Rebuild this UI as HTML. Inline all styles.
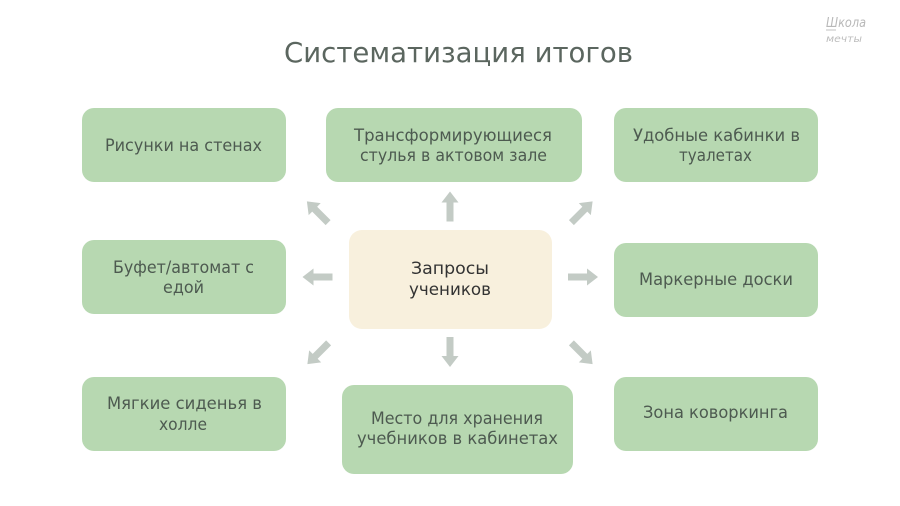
<!DOCTYPE html>
<html>
<head>
<meta charset="utf-8">
<style>
html,body{margin:0;padding:0;background:#fff;}
svg{display:block;}
text{font-family:"DejaVu Sans","Liberation Sans",sans-serif;}
</style>
</head>
<body>
<svg width="900" height="506" viewBox="0 0 900 506" xmlns="http://www.w3.org/2000/svg">
<rect width="900" height="506" fill="#ffffff"/>

<!-- logo -->
<text x="826" y="27" font-size="13" font-style="italic" fill="#b8b8b8" textLength="40" lengthAdjust="spacingAndGlyphs">Школа</text>
<line x1="826" y1="30" x2="836" y2="30" stroke="#c0c0c0" stroke-width="1"/>
<text x="826" y="42" font-size="10" font-style="italic" fill="#bdbdbd" textLength="36" lengthAdjust="spacingAndGlyphs">мечты</text>

<!-- title -->
<text x="284" y="62" font-size="28" fill="#5b665f" textLength="349" lengthAdjust="spacingAndGlyphs">Систематизация итогов</text>

<!-- boxes -->
<g fill="#b7d8b1">
<rect x="82" y="108" width="204" height="74" rx="12"/>
<rect x="326" y="108" width="256" height="74" rx="12"/>
<rect x="614" y="108" width="204" height="74" rx="12"/>
<rect x="82" y="240" width="204" height="74" rx="12"/>
<rect x="614" y="243" width="204" height="74" rx="12"/>
<rect x="82" y="377" width="204" height="74" rx="12"/>
<rect x="342" y="385" width="231" height="89" rx="12"/>
<rect x="614" y="377" width="204" height="74" rx="12"/>
</g>
<rect x="349" y="230" width="203" height="99" rx="13" fill="#f8f0dd"/>

<!-- box text -->
<g font-size="17" fill="#4d5a50">
<text x="105" y="151" textLength="157" lengthAdjust="spacingAndGlyphs">Рисунки на стенах</text>
<text x="354" y="141" textLength="198" lengthAdjust="spacingAndGlyphs">Трансформирующиеся</text>
<text x="360" y="161" textLength="187" lengthAdjust="spacingAndGlyphs">стулья в актовом зале</text>
<text x="633" y="141" textLength="167" lengthAdjust="spacingAndGlyphs">Удобные кабинки в</text>
<text x="679" y="161" textLength="73" lengthAdjust="spacingAndGlyphs">туалетах</text>
<text x="113" y="273" textLength="141" lengthAdjust="spacingAndGlyphs">Буфет/автомат с</text>
<text x="163" y="293" textLength="41" lengthAdjust="spacingAndGlyphs">едой</text>
<text x="639" y="285" textLength="154" lengthAdjust="spacingAndGlyphs">Маркерные доски</text>
<text x="107" y="409" textLength="155" lengthAdjust="spacingAndGlyphs">Мягкие сиденья в</text>
<text x="159" y="430" textLength="48" lengthAdjust="spacingAndGlyphs">холле</text>
<text x="371" y="424" textLength="172" lengthAdjust="spacingAndGlyphs">Место для хранения</text>
<text x="357" y="444" textLength="201" lengthAdjust="spacingAndGlyphs">учебников в кабинетах</text>
<text x="643" y="418" textLength="145" lengthAdjust="spacingAndGlyphs">Зона коворкинга</text>
</g>
<g font-size="17" fill="#333333">
<text x="411" y="274" textLength="78" lengthAdjust="spacingAndGlyphs">Запросы</text>
<text x="409" y="295" textLength="82" lengthAdjust="spacingAndGlyphs">учеников</text>
</g>

<!-- arrows -->
<defs>
<polygon id="ar" points="-3.5,15 3.5,15 3.5,-4 8.5,-4 0,-15 -8.5,-4 -3.5,-4"/>
</defs>
<g fill="#c3cbc5">
<use href="#ar" transform="translate(450,206.5)"/>
<use href="#ar" transform="translate(450,352) rotate(180)"/>
<use href="#ar" transform="translate(317.5,277) rotate(-90)"/>
<use href="#ar" transform="translate(583,277) rotate(90)"/>
<use href="#ar" transform="translate(317.5,212) rotate(-45)"/>
<use href="#ar" transform="translate(582,212) rotate(45)"/>
<use href="#ar" transform="translate(318,353.5) rotate(-135)"/>
<use href="#ar" transform="translate(582,353.5) rotate(135)"/>
</g>
</svg>
</body>
</html>
